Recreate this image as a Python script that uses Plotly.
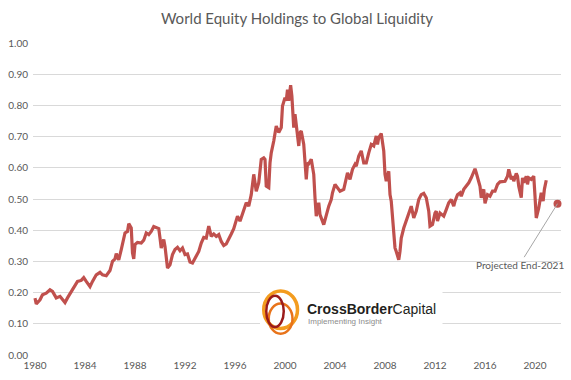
import plotly.graph_objects as go

# ---- data ----
years = [
    1980.0, 1980.1, 1980.4, 1980.6, 1980.9, 1981.2, 1981.4, 1981.7, 1982.0, 1982.2,
    1982.4, 1982.6, 1982.9, 1983.2, 1983.4, 1983.7, 1983.9, 1984.1, 1984.4, 1984.6,
    1984.9, 1985.2, 1985.4, 1985.7, 1986.0, 1986.2, 1986.4, 1986.5, 1986.7, 1986.9,
    1987.2, 1987.4, 1987.5, 1987.7, 1987.8, 1987.9, 1988.0, 1988.2, 1988.5, 1988.7,
    1988.9, 1989.1, 1989.3, 1989.5, 1989.7, 1989.9, 1990.0, 1990.1, 1990.3, 1990.4,
    1990.6, 1990.8, 1991.0, 1991.2, 1991.4, 1991.6, 1991.8, 1992.0, 1992.2, 1992.4,
    1992.6, 1992.8, 1993.1, 1993.3, 1993.5, 1993.7, 1993.9, 1994.1, 1994.3, 1994.5,
    1994.7, 1994.9, 1995.1, 1995.3, 1995.5, 1995.7, 1995.9, 1996.1, 1996.2, 1996.4,
    1996.6, 1996.7, 1996.9, 1997.1, 1997.3, 1997.5, 1997.6, 1997.7, 1997.9, 1998.1,
    1998.3, 1998.4, 1998.5, 1998.7, 1998.8, 1998.9, 1999.1, 1999.3, 1999.5, 1999.7,
    1999.8, 2000.0, 2000.1, 2000.2, 2000.3, 2000.45, 2000.55, 2000.7, 2000.8, 2000.9,
    2001.1, 2001.2, 2001.3, 2001.5, 2001.7, 2001.8, 2001.9, 2002.1, 2002.3, 2002.4,
    2002.5, 2002.7, 2002.8, 2003.1, 2003.3, 2003.5, 2003.7, 2003.8, 2004.0, 2004.2,
    2004.4, 2004.7, 2004.9, 2005.0, 2005.2, 2005.4, 2005.6, 2005.7, 2005.9, 2006.1,
    2006.3, 2006.5, 2006.7, 2006.9, 2007.1, 2007.3, 2007.4, 2007.5, 2007.7, 2007.9,
    2008.0, 2008.1, 2008.3, 2008.4, 2008.5, 2008.7, 2008.8, 2008.9, 2009.1, 2009.2,
    2009.3, 2009.5, 2009.7, 2009.8, 2009.9, 2010.1, 2010.3, 2010.5, 2010.7, 2010.9,
    2011.1, 2011.3, 2011.5, 2011.6, 2011.8, 2012.0, 2012.1, 2012.2, 2012.4, 2012.7,
    2012.9, 2013.1, 2013.3, 2013.5, 2013.6, 2013.8, 2014.0, 2014.1, 2014.3, 2014.5,
    2014.7, 2014.9, 2015.1, 2015.2, 2015.3, 2015.5, 2015.6, 2015.7, 2015.9, 2016.0,
    2016.2, 2016.4, 2016.6, 2016.8, 2017.0, 2017.2, 2017.4, 2017.6, 2017.8, 2017.9,
    2018.1, 2018.2, 2018.3, 2018.5, 2018.6, 2018.7, 2018.9, 2019.0, 2019.1, 2019.3,
    2019.4, 2019.5, 2019.7, 2019.9, 2020.0, 2020.1, 2020.3, 2020.4, 2020.5, 2020.65,
    2020.75, 2020.9,
]
ratio = [
    0.182, 0.164, 0.177, 0.193, 0.198, 0.209, 0.204, 0.183, 0.188, 0.177,
    0.168, 0.183, 0.204, 0.225, 0.236, 0.239, 0.248, 0.236, 0.219, 0.236,
    0.257, 0.265, 0.257, 0.254, 0.271, 0.300, 0.308, 0.325, 0.305, 0.338,
    0.391, 0.396, 0.421, 0.407, 0.327, 0.308, 0.354, 0.361, 0.359, 0.368,
    0.391, 0.386, 0.396, 0.412, 0.407, 0.405, 0.375, 0.343, 0.370, 0.348,
    0.279, 0.289, 0.322, 0.338, 0.345, 0.334, 0.343, 0.322, 0.324, 0.298,
    0.295, 0.311, 0.332, 0.359, 0.377, 0.375, 0.413, 0.380, 0.388, 0.380,
    0.386, 0.364, 0.351, 0.356, 0.375, 0.388, 0.405, 0.429, 0.445, 0.429,
    0.450, 0.466, 0.488, 0.477, 0.514, 0.579, 0.557, 0.525, 0.552, 0.627,
    0.632, 0.627, 0.541, 0.536, 0.616, 0.648, 0.686, 0.734, 0.713, 0.729,
    0.798, 0.825, 0.815, 0.850, 0.815, 0.865, 0.830, 0.729, 0.772, 0.729,
    0.670, 0.713, 0.718, 0.675, 0.563, 0.616, 0.613, 0.627, 0.579, 0.504,
    0.445, 0.488, 0.450, 0.418, 0.450, 0.477, 0.498, 0.520, 0.547, 0.536,
    0.525, 0.531, 0.568, 0.584, 0.563, 0.595, 0.611, 0.605, 0.638, 0.654,
    0.616, 0.616, 0.648, 0.675, 0.670, 0.702, 0.675, 0.697, 0.710, 0.654,
    0.579, 0.557, 0.589, 0.514, 0.493, 0.407, 0.343, 0.332, 0.305, 0.332,
    0.375, 0.407, 0.429, 0.439, 0.452, 0.477, 0.439, 0.461, 0.498, 0.514,
    0.518, 0.504, 0.461, 0.413, 0.418, 0.455, 0.461, 0.429, 0.455, 0.445,
    0.466, 0.488, 0.498, 0.477, 0.493, 0.514, 0.520, 0.509, 0.531, 0.541,
    0.552, 0.568, 0.589, 0.597, 0.584, 0.552, 0.541, 0.504, 0.531, 0.486,
    0.514, 0.509, 0.525, 0.525, 0.547, 0.555, 0.555, 0.557, 0.573, 0.595,
    0.563, 0.573, 0.557, 0.582, 0.573, 0.541, 0.504, 0.568, 0.552, 0.573,
    0.547, 0.568, 0.563, 0.573, 0.509, 0.439, 0.471, 0.498, 0.520, 0.493,
    0.531, 0.560,
]
proj_year = [2021.8]
proj_value = [0.485]
proj_label = "Projected End-2021"

x_ticks = [1980, 1984, 1988, 1992, 1996, 2000, 2004, 2008, 2012, 2016, 2020]
y_ticks = [0.0, 0.1, 0.2, 0.3, 0.4, 0.5, 0.6, 0.7, 0.8, 0.9, 1.0]

title_text = "World Equity Holdings to Global Liquidity"
logo_name = "<b>CrossBorder</b>Capital"
logo_tag = "Implementing Insight"

LINE = "#C0504D"
GREY = "#595959"
FONT = "Lato"

fig = go.Figure()
fig.add_trace(go.Scatter(x=years, y=ratio, mode="lines",
                         line=dict(color=LINE, width=3.2), hoverinfo="skip",
                         showlegend=False, cliponaxis=False))
fig.add_trace(go.Scatter(x=proj_year, y=proj_value, mode="markers",
                         marker=dict(color=LINE, size=8), showlegend=False,
                         cliponaxis=False))

fig.add_annotation(x=proj_year[0], y=proj_value[0], text=proj_label,
                   showarrow=True, arrowhead=0, arrowwidth=1, arrowcolor="#A6A6A6",
                   ax=-38, ay=61, font=dict(family=FONT, size=10, color=GREY))

# logo block (white background hiding gridlines)
fig.add_shape(type="rect", xref="x", yref="y", x0=1998.0, x1=2012.6, y0=0.058, y1=0.226,
              fillcolor="white", line=dict(width=0), layer="above")
fig.add_shape(type="circle", xref="x", yref="y", x0=1998.3, x1=2001.0, y0=0.085, y1=0.205,
              line=dict(color="#F39C1F", width=3.5), layer="above")
fig.add_shape(type="circle", xref="x", yref="y", x0=1998.7, x1=2000.6, y0=0.068, y1=0.165,
              line=dict(color="#E8731A", width=2.5), layer="above")
fig.add_shape(type="circle", xref="x", yref="y", x0=1998.5, x1=1999.9, y0=0.09, y1=0.19,
              line=dict(color="#9B1B1B", width=2.5), layer="above")
fig.add_annotation(x=2001.6, y=0.148, xanchor="left", yanchor="middle", showarrow=False,
                   text=logo_name, font=dict(family="Liberation Sans", size=14, color="#231F20"))
fig.add_annotation(x=2001.7, y=0.107, xanchor="left", yanchor="middle", showarrow=False,
                   text=logo_tag, font=dict(family="Liberation Sans", size=8, color="#8C8C8C"))

fig.update_layout(
    width=571, height=380,
    margin=dict(l=33, r=10, t=43, b=25, autoexpand=False),
    paper_bgcolor="white", plot_bgcolor="white",
    title=dict(text=title_text, x=0.5, xanchor="center", xref="paper", y=0.95,
               yanchor="middle", yref="container",
               font=dict(family=FONT, size=15, color=GREY)),
    font=dict(family=FONT, size=10, color=GREY),
    xaxis=dict(range=[1979.84, 2022.08], tickvals=x_ticks, ticktext=[str(t) for t in x_ticks],
               showgrid=False, zeroline=False, showline=False, ticks="", automargin=False,
               ticklabelstandoff=3,
               tickfont=dict(family=FONT, size=10, color=GREY)),
    yaxis=dict(range=[0, 1.0], tickvals=y_ticks, ticktext=[f"{v:.2f}" for v in y_ticks],
               showgrid=True, gridcolor="#D9D9D9", gridwidth=1, zeroline=False,
               showline=False, ticks="", automargin=False, ticklabelstandoff=4,
               tickfont=dict(family=FONT, size=10, color=GREY)),
)

fig.write_html("out.html", config={"displayModeBar": False},
               post_script="document.body.style.margin='0';document.body.style.overflow='hidden';")
